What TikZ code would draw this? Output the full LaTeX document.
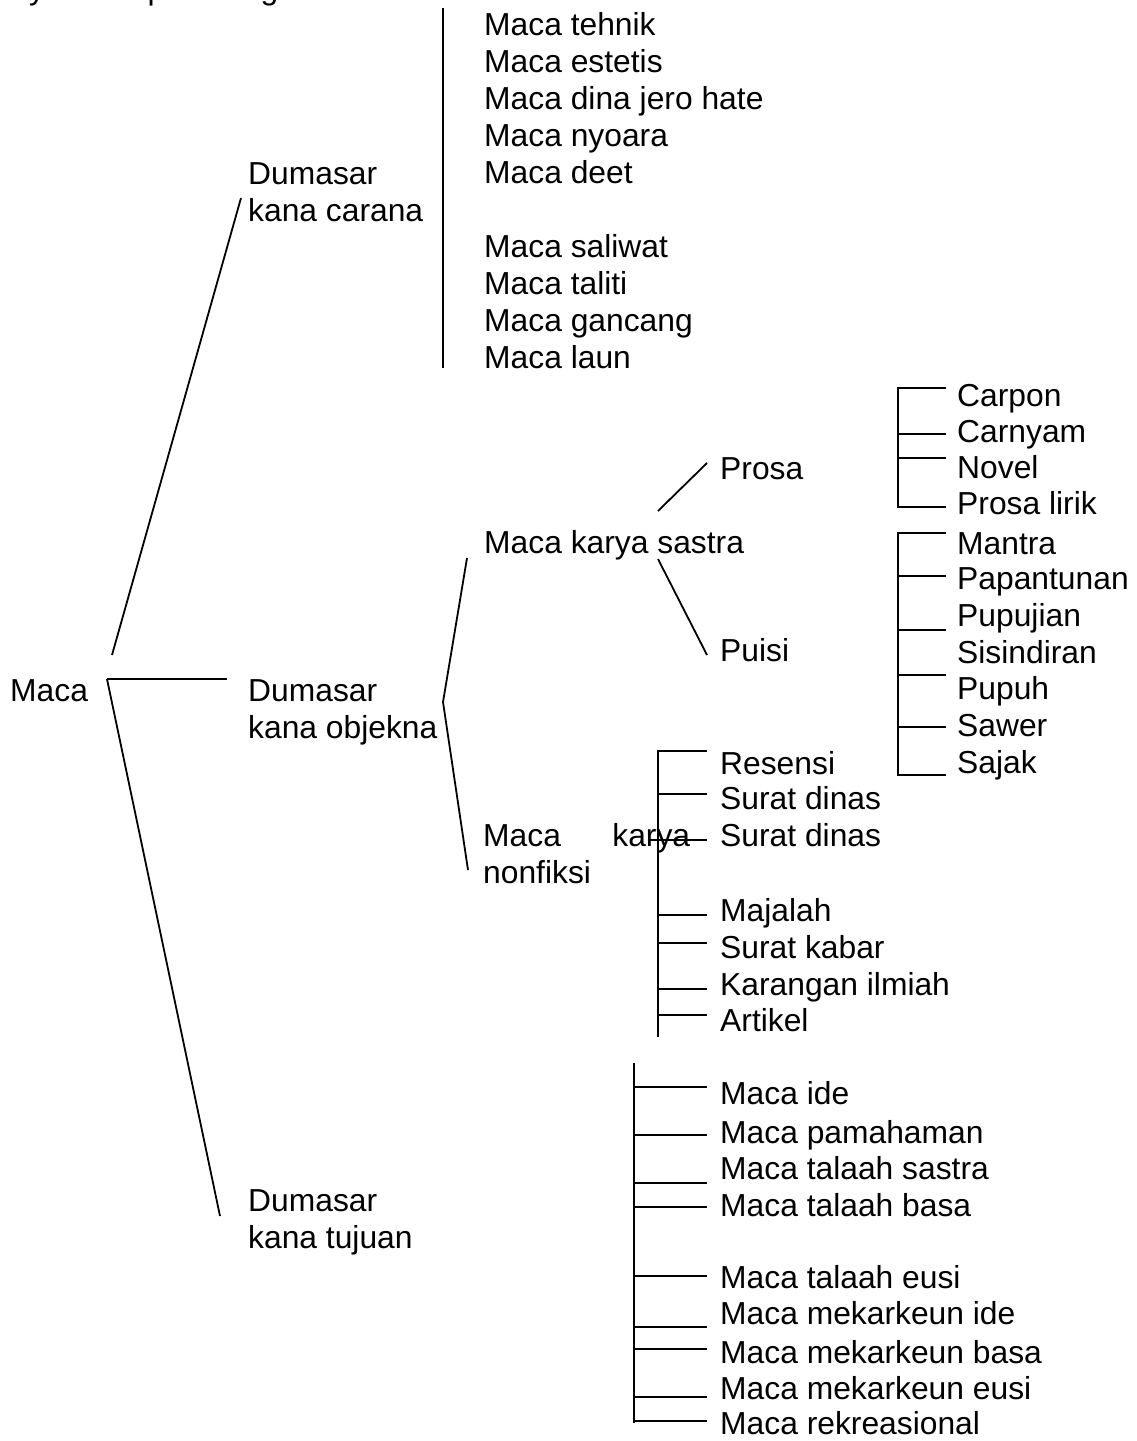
\documentclass[tikz,border=0pt]{standalone}
\usepackage{fontspec}
\setmainfont{Liberation Sans}
\begin{document}
\begin{tikzpicture}[x=1pt,y=-1pt,
  txt/.style={anchor=base west,inner sep=0pt,font=\fontsize{31.8}{37}\selectfont},
  ln/.style={line width=1.8pt}]
\useasboundingbox (0,0) rectangle (1136,1441);
% clipped heading (only descenders visible)
\node[txt] (head) at (6,-1) {Nya kitu upama digambarkeun};
% root
\node[txt] (maca) at (10,701) {Maca};
% level 1
\node[txt] (carA) at (248,184) {Dumasar};
\node[txt] (carB) at (248,221) {kana carana};
\node[txt] (objA) at (248,701) {Dumasar};
\node[txt] (objB) at (248,738) {kana objekna};
\node[txt] (tujA) at (248,1211) {Dumasar};
\node[txt] (tujB) at (248,1248) {kana tujuan};
% carana list
\foreach \t/\y [count=\i] in {Maca tehnik/35,Maca estetis/72,Maca dina jero hate/109,Maca nyoara/146,Maca deet/183,Maca saliwat/257,Maca taliti/294,Maca gancang/331,Maca laun/368}
  \node[txt] (c\i) at (484,\y) {\t};
% objekna
\node[txt] (sastra) at (484,553) {Maca karya sastra};
\node[txt] (nonA) at (483,846) {\makebox[207pt][s]{Maca karya}};
\node[txt] (nonB) at (483,883) {nonfiksi};
\node[txt] (prosa) at (720,479) {Prosa};
\node[txt] (puisi) at (720,661) {Puisi};
\foreach \t/\y [count=\i] in {Carpon/406,Carnyam/442,Novel/478,Prosa lirik/514}
  \node[txt] (p\i) at (957,\y) {\t};
\foreach \t/\y [count=\i] in {Mantra/554,Papantunan/589,Pupujian/626,Sisindiran/663,Pupuh/699,Sawer/736,Sajak/773}
  \node[txt] (u\i) at (957,\y) {\t};
\foreach \t/\y [count=\i] in {Resensi/774,Surat dinas/809,Surat dinas/846,Majalah/921,Surat kabar/958,Karangan ilmiah/995,Artikel/1031}
  \node[txt] (n\i) at (720,\y) {\t};
% tujuan list
\foreach \t/\y [count=\i] in {Maca ide/1104,Maca pamahaman/1143,Maca talaah sastra/1179,Maca talaah basa/1216,Maca talaah eusi/1288,Maca mekarkeun ide/1324,Maca mekarkeun basa/1363,Maca mekarkeun eusi/1399,Maca rekreasional/1434}
  \node[txt] (t\i) at (720,\y) {\t};
% coordinates
\coordinate (rootUp) at (112,655);
\coordinate (root) at (107,679);
\coordinate (carEnd) at (241,198);
\coordinate (objEnd) at (227,679);
\coordinate (tujEnd) at (220,1216);
\coordinate (cTop) at (443,8);
\coordinate (cBot) at (443,368);
\coordinate (oTop) at (467,558);
\coordinate (oMid) at (443,702);
\coordinate (oBot) at (468,870);
\coordinate (sUp) at (658,511);
\coordinate (sUpEnd) at (707,463);
\coordinate (sDn) at (658,559);
\coordinate (sDnEnd) at (707,655);
% connectors
\draw[ln] (cTop) -- (cBot);
\draw[ln] (rootUp) -- (carEnd);
\draw[ln] (root) -- (objEnd);
\draw[ln] (root) -- (tujEnd);
\draw[ln] (oTop) -- (oMid) -- (oBot);
\draw[ln] (sUp) -- (sUpEnd);
\draw[ln] (sDn) -- (sDnEnd);
% prosa bracket
\draw[ln] (946,388) -- (898,388) -- (898,507) -- (946,507);
\foreach \y in {434,458} \draw[ln] (898,\y) -- (946,\y);
% puisi bracket
\draw[ln] (946,533) -- (898,533) -- (898,775) -- (946,775);
\foreach \y in {576,630,675,727} \draw[ln] (898,\y) -- (946,\y);
% nonfiksi
\draw[ln] (707,751) -- (658,751) -- (658,1037);
\foreach \y in {794,915,943,989,1015} \draw[ln] (658,\y) -- (707,\y);
\draw[ln] (650,840) -- (707,840);
% tujuan
\draw[ln] (634,1063) -- (634,1423);
\foreach \y in {1087,1135,1183,1207,1276,1327,1349,1397,1421} \draw[ln] (634,\y) -- (707,\y);
\end{tikzpicture}
\end{document}
